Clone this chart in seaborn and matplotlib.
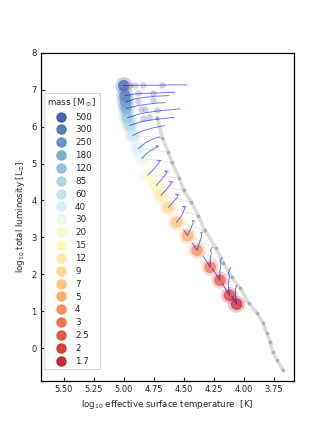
"""HR diagram: ZAMS points coloured by mass, evolution tracks and a grey comparison ZAMS"""

import numpy as np
import pandas as pd
import seaborn as sns
import matplotlib.pyplot as plt
from matplotlib.lines import Line2D

## masses and ZAMS position of the coloured models
masses = ["500", "300", "250", "180", "120", "85", "60", "40", "30", "20",
          "15", "12", "9", "7", "5", "4", "3", "2.5", "2", "1.7"]
zams_logT = [5.00, 4.99, 4.985, 4.98, 4.97, 4.95, 4.925, 4.88, 4.85, 4.80,
             4.73, 4.69, 4.63, 4.56, 4.47, 4.39, 4.28, 4.20, 4.12, 4.06]
zams_logL = [7.11, 6.84, 6.66, 6.49, 6.24, 6.03, 5.76, 5.40, 5.14, 4.68,
             4.40, 4.14, 3.81, 3.41, 3.05, 2.65, 2.19, 1.84, 1.43, 1.19]

## evolution tracks (one list per mass, same order)
track_logT = [
    [5.00, 4.90, 4.75, 4.60, 4.475],
    [4.99, 4.90, 4.75, 4.575],
    [4.985, 4.90, 4.75, 4.625],
    [4.98, 4.88, 4.75, 4.66],
    [4.97, 4.85, 4.70, 4.53],
    [4.95, 4.85, 4.70, 4.58],
    [4.925, 4.85, 4.75, 4.66],
    [4.88, 4.82, 4.76, 4.70],
    [4.85, 4.80, 4.75, 4.72, 4.73, 4.71],
    [4.80, 4.75, 4.72, 4.70, 4.72, 4.69],
    [4.73, 4.69, 4.66, 4.64, 4.66, 4.63],
    [4.69, 4.65, 4.62, 4.60, 4.62, 4.59],
    [4.63, 4.59, 4.56, 4.55, 4.57, 4.54],
    [4.56, 4.52, 4.50, 4.49, 4.51, 4.48],
    [4.50, 4.47, 4.44, 4.42, 4.43, 4.41],
    [4.43, 4.39, 4.37, 4.35, 4.36, 4.34],
    [4.34, 4.28, 4.28, 4.27, 4.28, 4.26],
    [4.26, 4.20, 4.20, 4.19, 4.20, 4.18],
    [4.18, 4.12, 4.13, 4.12, 4.13, 4.11],
    [4.10, 4.06, 4.07, 4.07, 4.06],
]
track_logL = [
    [7.11, 7.12, 7.12, 7.13, 7.13],
    [6.84, 6.89, 6.91, 6.93],
    [6.66, 6.76, 6.82, 6.84],
    [6.49, 6.57, 6.63, 6.65],
    [6.24, 6.36, 6.43, 6.48],
    [6.03, 6.14, 6.21, 6.25],
    [5.76, 5.88, 5.97, 6.03],
    [5.40, 5.56, 5.66, 5.72],
    [5.14, 5.30, 5.40, 5.45, 5.48, 5.47],
    [4.68, 4.85, 4.97, 5.05, 5.09, 5.08],
    [4.40, 4.55, 4.68, 4.76, 4.80, 4.79],
    [4.14, 4.28, 4.40, 4.48, 4.52, 4.50],
    [3.81, 3.95, 4.06, 4.13, 4.17, 4.15],
    [3.41, 3.58, 3.72, 3.80, 3.84, 3.83],
    [3.20, 3.05, 3.25, 3.42, 3.46, 3.44],
    [2.85, 2.65, 2.85, 3.05, 3.12, 3.15],
    [2.50, 2.19, 2.40, 2.60, 2.66, 2.73],
    [2.15, 1.84, 2.05, 2.30, 2.36, 2.46],
    [1.75, 1.43, 1.70, 1.95, 2.03, 2.19],
    [1.40, 1.19, 1.40, 1.60, 1.70],
]

## grey dots along the tracks of the most massive models
dot_logT = [4.95, 4.91, 4.84, 4.68, 4.88, 4.76, 4.88, 4.76, 4.86, 4.82, 4.72, 4.84, 4.79]
dot_logL = [7.12, 7.12, 7.12, 7.12, 6.92, 6.92, 6.68, 6.72, 6.47, 6.48, 6.46, 6.24, 6.25]

## grey comparison ZAMS (85 Msun down to 0.9 Msun)
grey_mass = ["85", "60", "40", "30", "20", "15", "12", "9", "7", "5", "4", "3",
             "2.5", "2", "1.7", "1.5", "1.3", "1.2", "1.1", "1", "0.9"]
grey_logT = [4.72, 4.68, 4.63, 4.60, 4.54, 4.50, 4.44, 4.38, 4.325, 4.23, 4.17, 4.10,
             4.03, 3.96, 3.89, 3.84, 3.81, 3.78, 3.76, 3.725, 3.675]
grey_logL = [6.24, 5.70, 5.32, 5.03, 4.62, 4.27, 3.97, 3.59, 3.19, 2.70, 2.30, 1.92,
             1.62, 1.22, 0.95, 0.68, 0.41, 0.16, -0.11, -0.32, -0.59]


def main():
    sns.set_theme(style="ticks")
    plt.rcParams['font.family'] = ['DejaVu Sans']

    couleurs = sns.color_palette("RdYlBu_r", len(masses))
    zams = pd.DataFrame({"mass": masses, "logT": zams_logT, "logL": zams_logL})
    grey = pd.DataFrame({"mass": grey_mass, "logT": grey_logT, "logL": grey_logL})

    fig = plt.figure(figsize=(3.27, 4.36), dpi=100)
    ax = fig.add_axes([0.125, 0.127, 0.774, 0.752])

    ## thin links between the two ZAMS for the same mass
    liens = zams.merge(grey, on="mass", suffixes=("", "_g"))
    for _, r in liens.iterrows():
        ax.plot([r.logT, r.logT_g], [r.logL, r.logL_g], color="0.87", lw=0.5, zorder=1)

    ## grey ZAMS
    sns.lineplot(data=grey, x="logT", y="logL", sort=False, color="0.8", lw=2.6,
                 alpha=0.7, ax=ax, zorder=2)
    ax.scatter(grey.logT, grey.logL, s=7, color="0.65", alpha=0.8, lw=0, zorder=3)

    ## coloured ZAMS points, soft glow
    sns.scatterplot(data=zams, x="logT", y="logL", hue="mass", hue_order=masses,
                    palette=couleurs, s=150, alpha=0.25, linewidth=0, legend=False,
                    ax=ax, zorder=4)
    sns.scatterplot(data=zams, x="logT", y="logL", hue="mass", hue_order=masses,
                    palette=couleurs, s=70, alpha=0.65, linewidth=0, legend=False,
                    ax=ax, zorder=5)

    ax.scatter(dot_logT, dot_logL, s=22, color="#8f93b5", alpha=0.4, lw=0, zorder=6)

    ## tracks
    for tT, tL in zip(track_logT, track_logL):
        ax.plot(tT, tL, color="blue", lw=0.7, alpha=0.55, zorder=7)

    ax.set_xlim(5.69, 3.583)
    ax.set_ylim(-0.88, 8.0)
    ax.set_xticks([5.5, 5.25, 5.0, 4.75, 4.5, 4.25, 4.0, 3.75])
    ax.set_xticklabels(["5.50", "5.25", "5.00", "4.75", "4.50", "4.25", "4.00", "3.75"])
    ax.set_yticks(range(0, 9))
    ax.tick_params(direction="in", labelsize=6, length=3, width=0.8, pad=3)
    for s in ax.spines.values():
        s.set_linewidth(0.9)
        s.set_color("black")
    ax.set_xlabel(r"log$_{10}$ effective surface temperature  [K]", fontsize=6.2, labelpad=3)
    ax.set_ylabel(r"log$_{10}$ total luminosity [L$_{\odot}$]", fontsize=6.2, labelpad=3)

    poignees = [Line2D([], [], marker="o", ls="", color=c, markersize=6.5, alpha=0.9)
                for c in couleurs]
    leg = ax.legend(poignees, masses, title=r"mass [M$_\odot$]", loc="upper left",
                    bbox_to_anchor=(0.012, 0.878), borderaxespad=0, fontsize=6.3,
                    title_fontsize=6.3, labelspacing=0.44, handletextpad=0.6,
                    frameon=True, fancybox=False)
    leg.get_frame().set_edgecolor("0.8")
    leg.get_frame().set_linewidth(0.8)

    fig.savefig("out.png", dpi=100)


if __name__ == '__main__':
    main()
